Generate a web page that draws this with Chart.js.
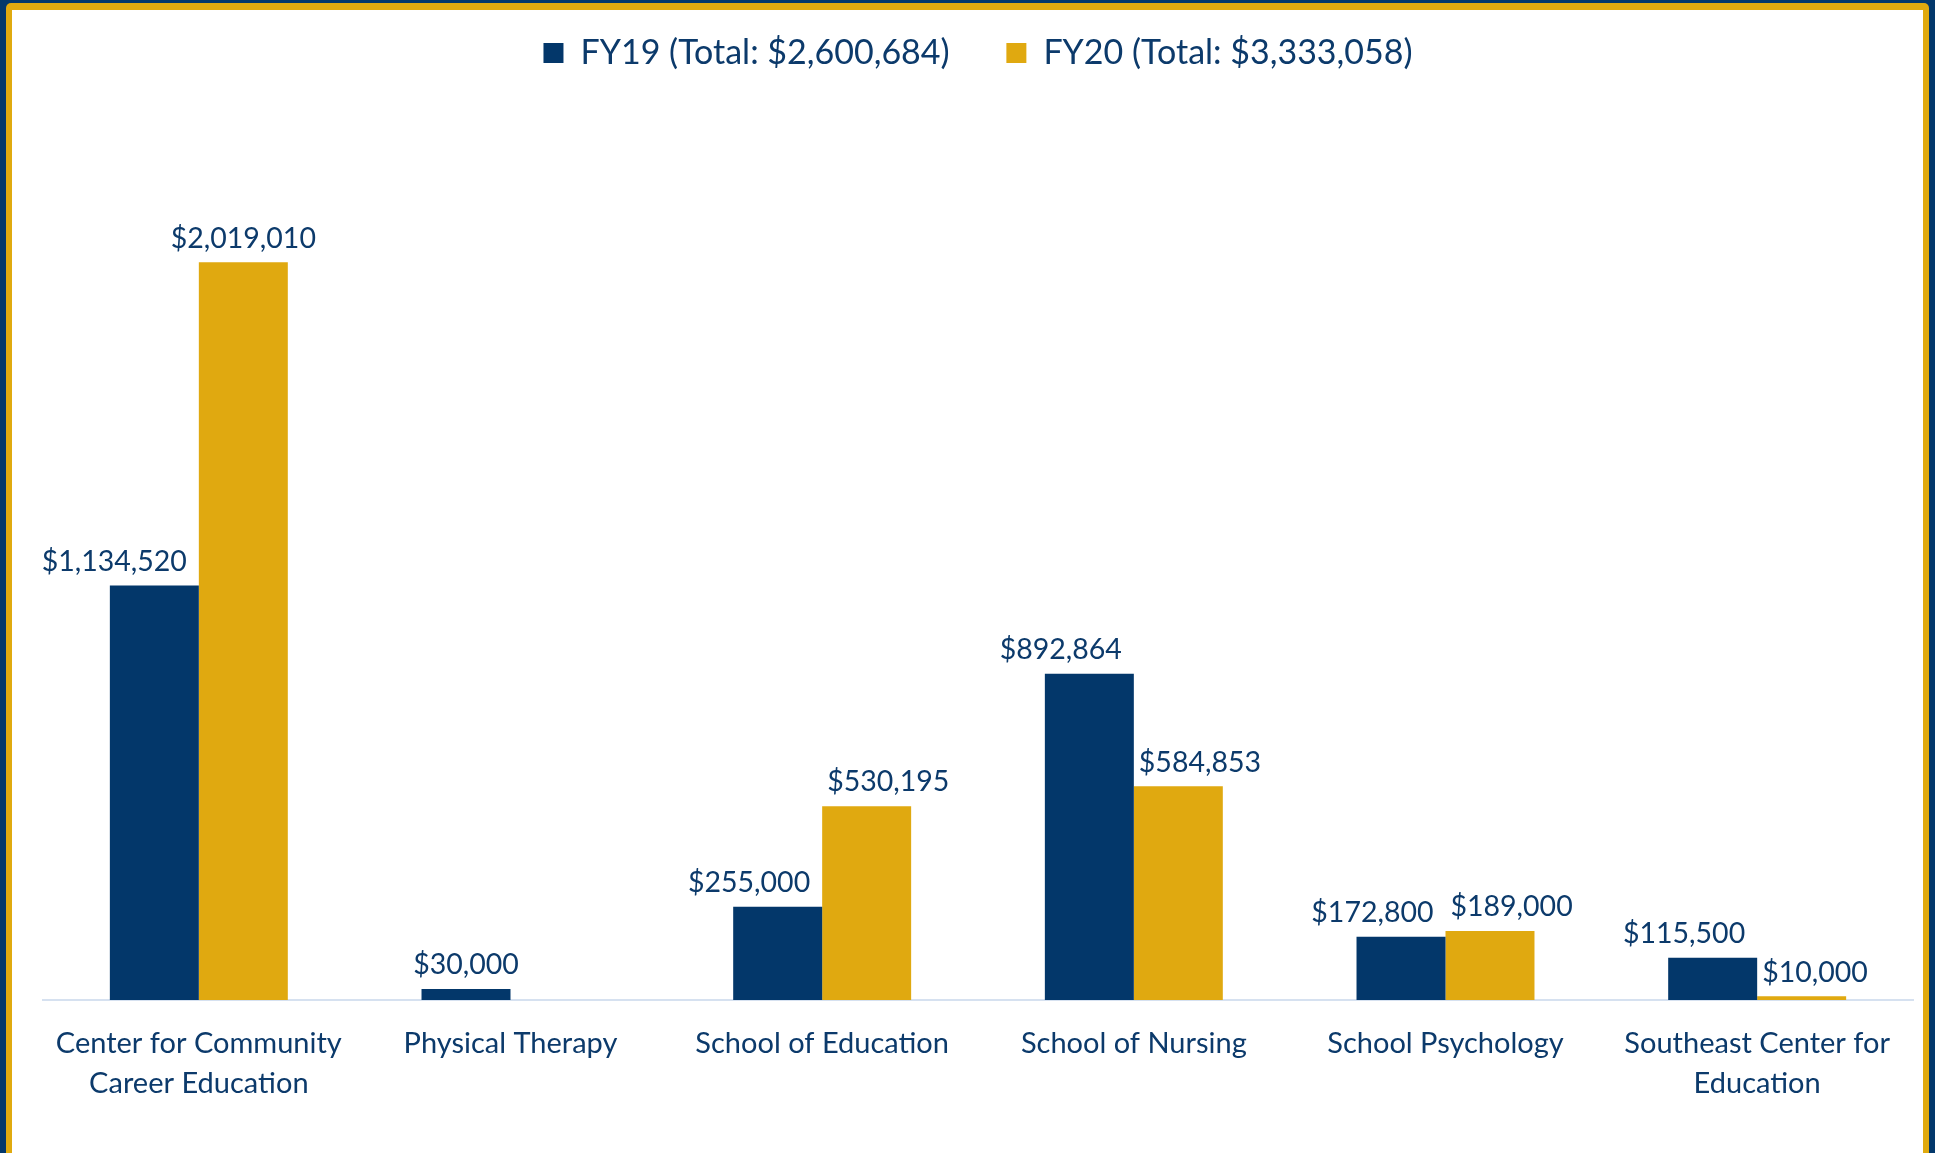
<!DOCTYPE html>
<html>
<head>
<meta charset="utf-8">
<script src="https://cdn.jsdelivr.net/npm/chart.js@4.4.1/dist/chart.umd.min.js"></script>
<style>
  html,body{margin:0;padding:0;width:1935px;height:1153px;overflow:hidden;background:#03386b;}
  #gold{position:absolute;left:6px;top:3px;right:6px;bottom:-20px;background:#e0aa0f;border-top-left-radius:5px;border-top-right-radius:5px;}
  #white{position:absolute;left:12px;top:10px;width:1911px;height:1143px;background:#fff;}
  #chart{display:block;}
</style>
</head>
<body>
<div id="gold"></div>
<div id="white"><canvas id="chart" width="1911" height="1143"></canvas></div>
<script>
// ===== 数据 =====
const categories = [
  ["Center for Community", "Career Education"],
  "Physical Therapy",
  "School of Education",
  "School of Nursing",
  "School Psychology",
  ["Southeast Center for", "Education"]
];
const fy19 = [1134520, 30000, 255000, 892864, 172800, 115500];
const fy20 = [2019010, null, 530195, 584853, 189000, 10000];
const seriesNames = ["FY19 (Total: $2,600,684)", "FY20 (Total: $3,333,058)"];

const NAVY = "#03376a", GOLD = "#e0a910", TEXT = "#0c3a6b";
const FONT = "Lato";

function money(v){ return "$" + v.toLocaleString("en-US"); }

// ===== 数据标签 =====
const barLabels = {
  id: "barLabels",
  afterDatasetsDraw(chart){
    const ctx = chart.ctx;
    const m0 = chart.getDatasetMeta(0), m1 = chart.getDatasetMeta(1);
    ctx.save();
    ctx.font = `28.5px ${FONT}`;
    ctx.fillStyle = TEXT;
    ctx.textBaseline = "middle";
    [m0, m1].forEach((meta, di) => {
      const other = di === 0 ? m1 : m0;
      meta.data.forEach((bar, i) => {
        const v = chart.data.datasets[di].data[i];
        if(v == null) return;
        const w = bar.width;
        const y = bar.y - 24;
        const ov = chart.data.datasets[1-di].data[i];
        const alone = ov == null || (other.data[i].y - bar.y > 150);
        let x;
        if(alone){ ctx.textAlign = "center"; x = bar.x; }
        else if(di === 0){ ctx.textAlign = "right"; x = bar.x + w/2 - 12; }
        else { ctx.textAlign = "left"; x = bar.x - w/2 + 5; }
        ctx.fillText(money(v), x, y);
      });
    });
    ctx.restore();
  }
};

new Chart(document.getElementById("chart"), {
  type: "bar",
  data: {
    labels: categories,
    datasets: [
      { label: seriesNames[0] + "\u2003\u2002\u2009", data: fy19, backgroundColor: NAVY, borderWidth: 0 },
      { label: seriesNames[1], data: fy20, backgroundColor: GOLD, borderWidth: 0 }
    ]
  },
  options: {
    responsive: false, animation: false,
    categoryPercentage: 0.571, barPercentage: 1.0,
    layout: { padding: { left: 31, right: 10, top: 16, bottom: 0 } },
    plugins: {
      legend: {
        position: "top",
        labels: { color: TEXT, font: { family: FONT, size: 34 }, boxWidth: 20, boxHeight: 20, padding: 10 }
      },
      tooltip: { enabled: false }
    },
    scales: {
      x: {
        grid: { display: false },
        border: { display: true, color: "#d6e1f0", width: 2 },
        ticks: { color: TEXT, font: { family: FONT, size: 29, lineHeight: 1.38 }, padding: 16, maxRotation: 0, autoSkip: false },
        afterFit(s){ s.height = 153; }
      },
      y: { display: false, min: 0, max: 2518000 }
    }
  },
  plugins: [barLabels]
});
</script>
</body>
</html>
